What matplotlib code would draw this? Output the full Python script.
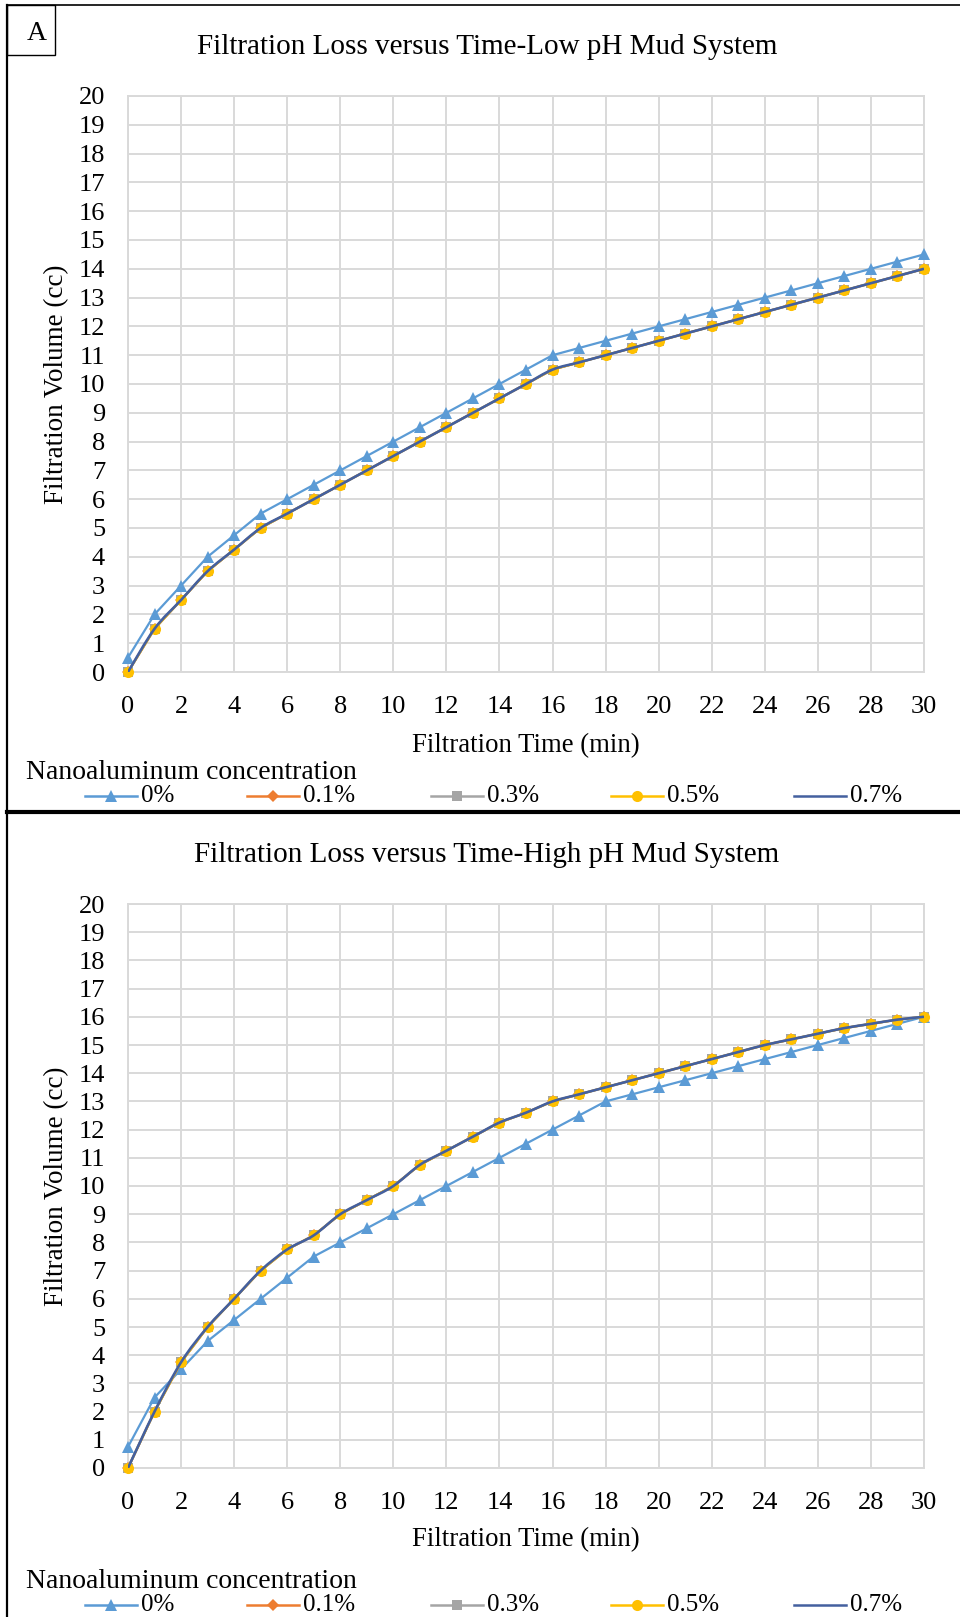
import matplotlib
matplotlib.use("Agg")
import matplotlib.pyplot as plt
from matplotlib.lines import Line2D
from matplotlib.patches import Rectangle, PathPatch
from matplotlib.path import Path
import numpy as np

plt.rcParams['font.family'] = ['Liberation Serif', 'DejaVu Serif']

# ---------------- data ----------------
time_min = list(range(0, 31))

low_ph_0 = [0.5, 2, 3, 4, 4.75, 5.5, 6, 6.5, 7, 7.5, 8, 8.5, 9, 9.5, 10, 10.5,
            11, 11.25, 11.5, 11.75, 12, 12.25, 12.5, 12.75, 13, 13.25, 13.5,
            13.75, 14, 14.25, 14.5]
low_ph_nano = [0, 1.5, 2.5, 3.5, 4.25, 5, 5.5, 6, 6.5, 7, 7.5, 8, 8.5, 9, 9.5,
               10, 10.5, 10.75, 11, 11.25, 11.5, 11.75, 12, 12.25, 12.5, 12.75,
               13, 13.25, 13.5, 13.75, 14]
low_ph_01 = low_ph_nano
low_ph_03 = low_ph_nano
low_ph_05 = low_ph_nano
low_ph_07 = low_ph_nano

high_ph_0 = [0.75, 2.5, 3.5, 4.5, 5.25, 6, 6.75, 7.5, 8, 8.5, 9, 9.5, 10, 10.5,
             11, 11.5, 12, 12.5, 13, 13.25, 13.5, 13.75, 14, 14.25, 14.5, 14.75,
             15, 15.25, 15.5, 15.75, 16]
high_ph_nano = [0, 2, 3.75, 5, 6, 7, 7.75, 8.25, 9, 9.5, 10, 10.75, 11.25, 11.75,
                12.25, 12.6, 13, 13.25, 13.5, 13.75, 14, 14.25, 14.5, 14.75, 15,
                15.2, 15.4, 15.6, 15.75, 15.9, 16]
high_ph_01 = high_ph_nano
high_ph_03 = high_ph_nano
high_ph_05 = high_ph_nano
high_ph_07 = high_ph_nano

series_labels = ['0%', '0.1%', '0.3%', '0.5%', '0.7%']
x_ticks = list(range(0, 31, 2))
y_ticks = list(range(0, 21))
titles = ['Filtration Loss versus Time-Low pH Mud System',
          'Filtration Loss versus Time-High pH Mud System']
x_label = 'Filtration Time (min)'
y_label = 'Filtration Volume (cc)'
legend_title = 'Nanoaluminum concentration'

# ---------------- style ----------------
colors = ['#5B9BD5', '#ED7D31', '#A5A5A5', '#FFC000', '#44609F']
markers = ['^', 'D', 's', 'o', None]
msizes = [8, 6, 6.5, 8, 0]

W, H = 960, 1617
fig = plt.figure(figsize=(W / 100, H / 100), dpi=100)


def fx(x):
    return x / W


def fy(y):
    return 1 - y / H


def smooth_path(xs, ys):
    xs = np.asarray(xs, float)
    ys = np.asarray(ys, float)
    n = len(xs)
    verts = [(xs[0], ys[0])]
    codes = [Path.MOVETO]
    for i in range(n - 1):
        i0 = max(i - 1, 0)
        i3 = min(i + 2, n - 1)
        c1 = (xs[i] + (xs[i + 1] - xs[i0]) / 6, ys[i] + (ys[i + 1] - ys[i0]) / 6)
        c2 = (xs[i + 1] - (xs[i3] - xs[i]) / 6, ys[i + 1] - (ys[i3] - ys[i]) / 6)
        verts += [c1, c2, (xs[i + 1], ys[i + 1])]
        codes += [Path.CURVE4] * 3
    return Path(verts, codes)


def draw_panel(top, bottom, data, title, title_y, xl_y, leg_title_y, leg_y):
    ax = fig.add_axes([fx(128), fy(bottom), fx(924 - 128), (bottom - top) / H])
    ax.set_xlim(0, 30)
    ax.set_ylim(0, 20)
    ax.set_xticks(x_ticks)
    ax.set_yticks(y_ticks)
    ax.grid(True, color='#D9D9D9', linewidth=1.4)
    ax.set_axisbelow(True)
    for s in ax.spines.values():
        s.set_color('#D9D9D9')
        s.set_linewidth(1.4)
    ax.tick_params(length=0, labelsize=19)
    ax.tick_params(axis='y', pad=16.5)
    ax.tick_params(axis='x', pad=17)

    for k, ys in enumerate(data):
        if k == 4:
            patch = PathPatch(smooth_path(time_min, ys), fill=False,
                              edgecolor=colors[k], linewidth=1.9, zorder=5)
            ax.add_patch(patch)
        else:
            ax.plot(time_min, ys, color=colors[k], linewidth=1.6,
                    marker=markers[k], markersize=msizes[k],
                    markeredgewidth=0, clip_on=False, zorder=3 + k * 0.1)

    fig.text(fx(487), fy(title_y), title, fontsize=21, ha='center', va='center')
    fig.text(fx(526), fy(xl_y), x_label, fontsize=19.3, ha='center', va='center')
    fig.text(fx(57), fy((top + bottom) / 2), y_label, fontsize=19.5,
             ha='center', va='center', rotation=90)

    # legend
    fig.text(fx(26), fy(leg_title_y), legend_title, fontsize=20,
             ha='left', va='center')
    starts = [85, 247, 431, 611, 794]
    for k, x0 in enumerate(starts):
        x1 = x0 + 52
        fig.add_artist(Line2D([fx(x0), fx(x1)], [fy(leg_y), fy(leg_y)],
                              color=colors[k], linewidth=1.8))
        if markers[k]:
            fig.add_artist(Line2D([fx((x0 + x1) / 2)], [fy(leg_y)],
                                  color=colors[k], marker=markers[k],
                                  markersize=msizes[k], markeredgewidth=0,
                                  linestyle='none'))
        fig.text(fx(x1 + 4), fy(leg_y), series_labels[k], fontsize=18,
                 ha='left', va='center')
    return ax


draw_panel(96, 672,
           [low_ph_0, low_ph_01, low_ph_03, low_ph_05, low_ph_07],
           titles[0], 47, 746, 772, 796)
draw_panel(904, 1468,
           [high_ph_0, high_ph_01, high_ph_03, high_ph_05, high_ph_07],
           titles[1], 855, 1540, 1581, 1605)

# frame lines
fig.add_artist(Line2D([fx(7), fx(960)], [fy(5.5), fy(5.5)], color='black', linewidth=1.2))
fig.add_artist(Line2D([fx(7), fx(7)], [fy(5), fy(1617)], color='black', linewidth=1.6))
fig.add_artist(Line2D([fx(7), fx(960)], [fy(812), fy(812)], color='black', linewidth=3))
# "A" box
fig.add_artist(Rectangle((fx(7), fy(55)), fx(48), 50 / H, fill=False,
                         edgecolor='black', linewidth=1.0))
fig.text(fx(37), fy(33), 'A', fontsize=20, ha='center', va='center')

fig.savefig('out.png', dpi=100)
